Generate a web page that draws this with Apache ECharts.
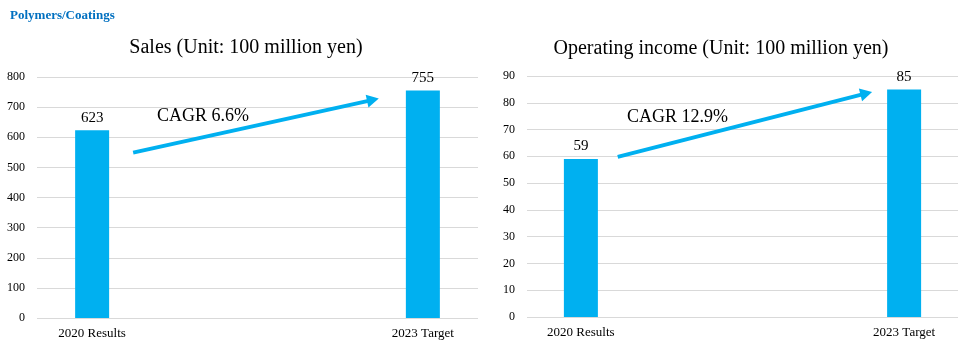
<!DOCTYPE html>
<html>
<head>
<meta charset="utf-8">
<script src="https://cdn.jsdelivr.net/npm/echarts@6/dist/echarts.min.js"></script>
<style>
  html, body { margin: 0; padding: 0; background: #fff; }
  #main { width: 968px; height: 352px; }
</style>
</head>
<body>
<div id="main"></div>
<script>
const categories = ['2020 Results', '2023 Target'];
const sales = [623, 755];
const income = [59, 85];
const salesTicks = [0, 100, 200, 300, 400, 500, 600, 700, 800];
const incomeTicks = [0, 10, 20, 30, 40, 50, 60, 70, 80, 90];
// arrow ends, in data units (x = category index, y = value)
const salesArrow = [[0.124, 549], [0.849, 724]];
const incomeArrow = [[0.114, 59.8], [0.883, 83.5]];
const salesCagr = 'CAGR 6.6%';
const incomeCagr = 'CAGR 12.9%';

const blue = '#00B0F0';
const font = '"Liberation Serif", "Times New Roman", serif';

function xAxisFor(gridIndex) {
  return {
    type: 'value',
    gridIndex: gridIndex,
    min: -0.1667,
    max: 1.1667,
    axisLine: { show: false },
    axisTick: { show: false },
    splitLine: { show: false },
    axisLabel: {
      customValues: [0, 1],
      formatter: v => categories[Math.round(v)],
      color: '#000',
      fontFamily: font,
      fontSize: 13,
      margin: 9
    }
  };
}

function yAxisFor(gridIndex, ticks) {
  return {
    type: 'value',
    gridIndex: gridIndex,
    min: ticks[0],
    max: ticks[ticks.length - 1],
    interval: ticks[1] - ticks[0],
    axisLine: { show: false },
    axisTick: { show: false },
    splitLine: { lineStyle: { color: '#d9d9d9', width: 1 } },
    axisLabel: { color: '#000', fontFamily: font, fontSize: 12, margin: 12 }
  };
}

function barSeries(idx, values, arrow) {
  return {
    type: 'bar',
    xAxisIndex: idx,
    yAxisIndex: idx,
    barWidth: 34,
    data: values.map((v, i) => [i, v]),
    itemStyle: { color: blue },
    label: {
      show: true,
      position: 'top',
      distance: 5,
      color: '#000',
      fontFamily: font,
      fontSize: 15,
      formatter: p => p.value[1]
    },
    markLine: {
      silent: true,
      symbol: ['none', 'triangle'],
      symbolSize: [13, 12],
      lineStyle: { color: blue, width: 4, type: 'solid' },
      label: { show: false },
      data: [[{ coord: arrow[0] }, { coord: arrow[1] }]],
      animation: false
    }
  };
}

function text(x, y, str, size, extra) {
  return {
    type: 'text',
    x: x,
    y: y,
    style: Object.assign({
      text: str,
      fill: '#000',
      font: size + 'px ' + font,
      textAlign: 'center',
      textVerticalAlign: 'middle'
    }, extra || {})
  };
}

const option = {
  animation: false,
  grid: [
    { left: 37, right: 490, top: 77, bottom: 34 },
    { left: 527, right: 10, top: 76, bottom: 35 }
  ],
  xAxis: [xAxisFor(0), xAxisFor(1)],
  yAxis: [yAxisFor(0, salesTicks), yAxisFor(1, incomeTicks)],
  graphic: [
    text(10, 16, 'Polymers/Coatings', 13, { textAlign: 'left', fill: '#0070C0', font: 'bold 13px ' + font }),
    text(246, 48, 'Sales (Unit: 100 million yen)', 20),
    text(721, 49, 'Operating income (Unit: 100 million yen)', 20),
    text(157, 116, salesCagr, 18, { textAlign: 'left' }),
    text(627, 117, incomeCagr, 18, { textAlign: 'left' })
  ],
  series: [
    barSeries(0, sales, salesArrow),
    barSeries(1, income, incomeArrow)
  ]
};

const myChart = echarts.init(document.getElementById('main'));
myChart.setOption(option);
</script>
</body>
</html>
